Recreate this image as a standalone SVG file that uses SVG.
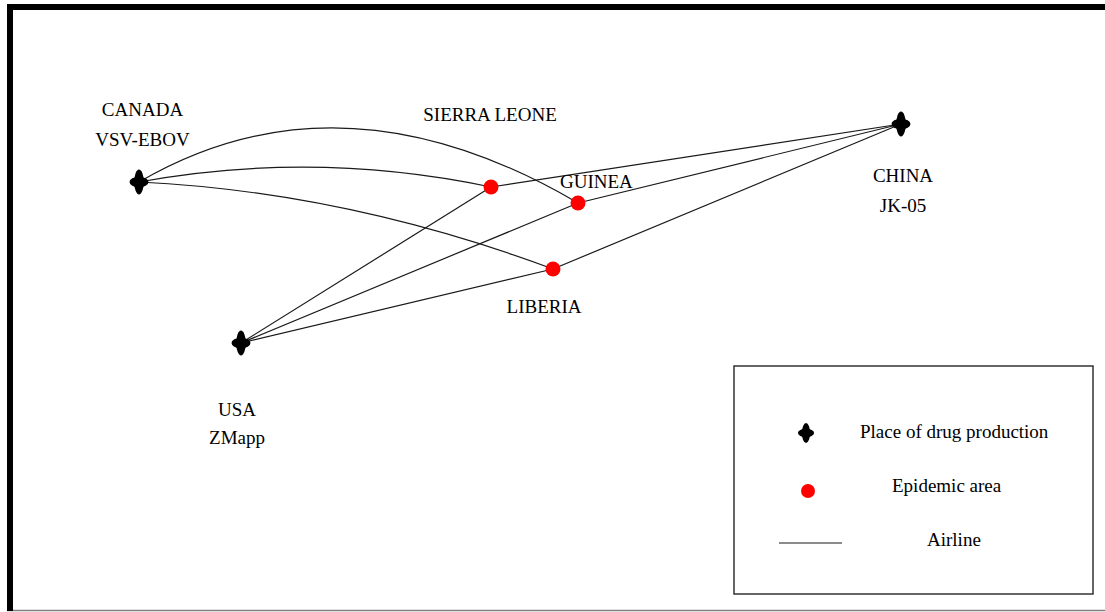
<svg xmlns="http://www.w3.org/2000/svg" width="1105" height="612" viewBox="0 0 1105 612">
  <style>
    .lbl { font-family: "Liberation Serif", "Times New Roman", serif; font-size: 19px; fill: #000; }
    .mid { text-anchor: middle; }
    .air { fill: none; stroke: #1a1a1a; stroke-width: 1.2; }
    .epi { fill: #ff0000; }
    .prod { fill: #000; }
  </style>
  <defs>
    <g id="plane">
      <ellipse cx="0" cy="0" rx="4.8" ry="12.5"/>
      <ellipse cx="0" cy="0" rx="9.5" ry="5.2"/>
      <circle cx="0" cy="0" r="6"/>
    </g>
  </defs>
  <rect x="0" y="0" width="1105" height="612" fill="#fff"/>
  <!-- frame -->
  <g id="frame">
    <line x1="7" y1="610.5" x2="1105" y2="610.5" stroke="#808080" stroke-width="1.5"/>
    <rect x="7" y="4" width="1098" height="6" fill="#000"/>
    <rect x="7" y="4" width="6" height="607" fill="#000"/>
  </g>
  <!-- connectors -->
  <g id="connectors">
    <path class="air" d="M139,182 Q341,64 578,203"/>
    <path class="air" d="M139,182 Q315,150 491,187"/>
    <path class="air" d="M139,182 Q346,192 553,269"/>
    <line class="air" x1="241" y1="343" x2="491" y2="187"/>
    <line class="air" x1="241" y1="343" x2="578" y2="203"/>
    <line class="air" x1="241" y1="343" x2="553" y2="269"/>
    <line class="air" x1="901" y1="124" x2="491" y2="187"/>
    <line class="air" x1="901" y1="124" x2="578" y2="203"/>
    <line class="air" x1="901" y1="124" x2="553" y2="269"/>
  </g>
  <!-- production nodes -->
  <g id="canada">
    <use href="#plane" class="prod" x="139" y="182"/>
    <text class="lbl mid" x="142.5" y="116">CANADA</text>
    <text class="lbl mid" x="142.5" y="146">VSV-EBOV</text>
  </g>
  <g id="usa">
    <use href="#plane" class="prod" x="241" y="343"/>
    <text class="lbl mid" x="237" y="416">USA</text>
    <text class="lbl mid" x="237" y="444">ZMapp</text>
  </g>
  <g id="china">
    <use href="#plane" class="prod" x="901" y="124"/>
    <text class="lbl mid" x="903" y="182">CHINA</text>
    <text class="lbl mid" x="903" y="212">JK-05</text>
  </g>
  <!-- epidemic nodes -->
  <g id="sierra-leone">
    <circle class="epi" cx="491" cy="187" r="7.5"/>
    <text class="lbl mid" x="490" y="121">SIERRA LEONE</text>
  </g>
  <g id="guinea">
    <circle class="epi" cx="578" cy="203" r="7.5"/>
    <text class="lbl" x="560" y="188">GUINEA</text>
  </g>
  <g id="liberia">
    <circle class="epi" cx="553" cy="269" r="7.5"/>
    <text class="lbl mid" x="544" y="313">LIBERIA</text>
  </g>
  <!-- legend -->
  <g id="legend">
    <rect x="734" y="366" width="359" height="228" fill="#fff" stroke="#333" stroke-width="1.5"/>
    <g transform="translate(806,433) scale(0.85,0.8)">
      <use href="#plane" class="prod"/>
    </g>
    <text class="lbl" x="860" y="438">Place of drug production</text>
    <circle class="epi" cx="808" cy="491" r="7"/>
    <text class="lbl" x="892" y="492">Epidemic area</text>
    <line x1="779" y1="543" x2="842" y2="543" stroke="#1a1a1a" stroke-width="1.2"/>
    <text class="lbl" x="927" y="546">Airline</text>
  </g>
</svg>
